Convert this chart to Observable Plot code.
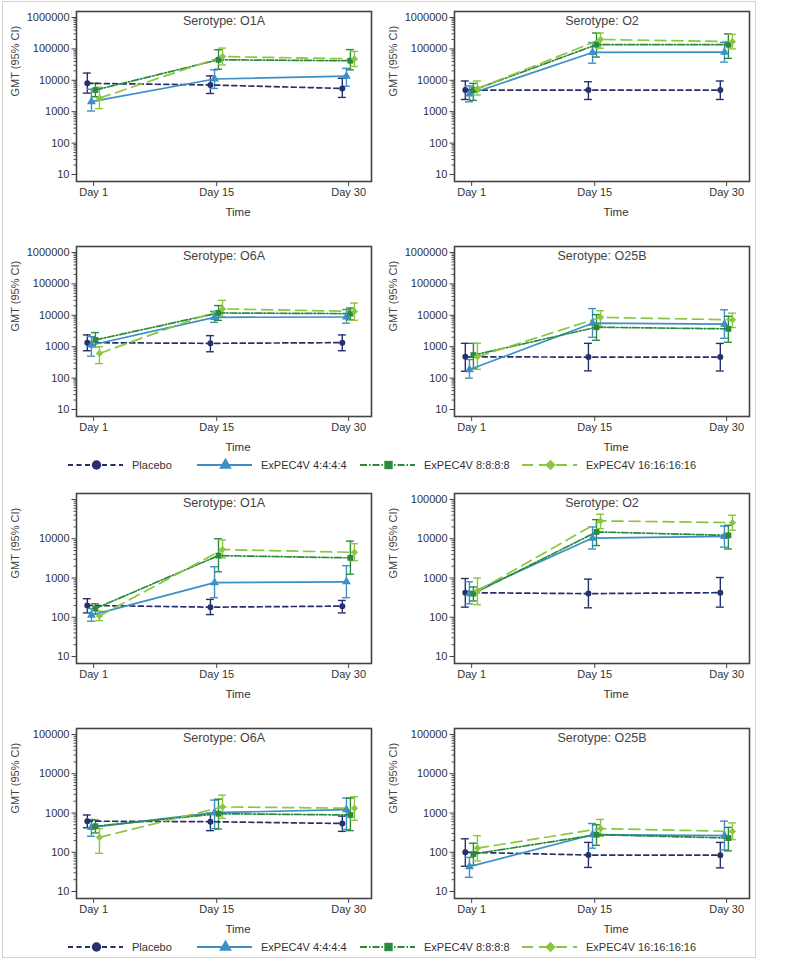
<!DOCTYPE html>
<html>
<head>
<meta charset="utf-8">
<script src="https://cdn.jsdelivr.net/npm/d3@7"></script>
<script src="https://cdn.jsdelivr.net/npm/@observablehq/plot@0.6"></script>
<style>
  body { margin: 0; background: #fff; font-family: "Liberation Sans", Arial, sans-serif; }
  #page { position: relative; width: 800px; height: 961px; }
  #border { position: absolute; left: 2px; top: 1px; width: 754px; height: 957px; border: 1px solid #d2d2d2; box-sizing: border-box; }
  .panel { position: absolute; }
  .legend { position: absolute; left: 0; }
</style>
</head>
<body>
<div id="page"><div id="border"></div></div>
<script>
// ---------- data ----------
const days = [1, 15, 30];
const dayLabels = ["Day 1", "Day 15", "Day 30"];
const groups = ["Placebo", "ExPEC4V 4:4:4:4", "ExPEC4V 8:8:8:8", "ExPEC4V 16:16:16:16"];
const colors = ["#27306c", "#3d8fc6", "#2b8a3e", "#8cc63f"];
const dashes = ["5,3.5", null, "7,2,1.5,2", "11,6"];
const symbols = ["circle", "triangle", "square", "diamond2"];
const xOffsets = [-0.72, -0.25, 0.2, 0.66];   // small dodge of groups around each day

// rows: groups (Placebo, 4:4:4:4, 8:8:8:8, 16:16:16:16); columns: Day 1, Day 15, Day 30
// Upper block
const gmt1_O1A = [[8000, 7100, 5500], [2100, 11000, 13500], [4900, 45000, 42000], [2700, 57000, 48000]];
const lo1_O1A  = [[3900, 3800, 2850], [1050, 5500, 6500], [3000, 22500, 21500], [1250, 31000, 27500]];
const hi1_O1A  = [[17000, 13800, 11600], [5200, 21500, 24000], [8000, 94000, 95000], [6000, 106000, 83000]];

const gmt1_O2 = [[4900, 4900, 4900], [3650, 77000, 79000], [4900, 136000, 136000], [5400, 200000, 170000]];
const lo1_O2  = [[2450, 2450, 2450], [2070, 35000, 38000], [2300, 55000, 50000], [3400, 105000, 100000]];
const hi1_O2  = [[9500, 9000, 9500], [6600, 160000, 160000], [8000, 320000, 300000], [9500, 320000, 290000]];

const gmt1_O6A = [[1345, 1280, 1345], [1130, 8620, 8830], [1640, 11900, 11300], [610, 16000, 13300]];
const lo1_O6A  = [[745, 690, 745], [500, 5950, 5600], [1000, 6900, 7200], [290, 8800, 6900]];
const hi1_O6A  = [[2370, 2250, 2370], [2090, 13400, 15200], [2820, 20400, 17000], [1000, 30000, 24500]];

const gmt1_O25B = [[477, 466, 466], [187, 5600, 5200], [540, 4170, 3700], [480, 8600, 7200]];
const lo1_O25B  = [[165, 170, 168], [100, 1990, 1850], [200, 1600, 1380], [190, 4400, 4100]];
const hi1_O25B  = [[1280, 1280, 1270], [390, 16400, 15000], [1280, 10500, 9300], [1280, 14000, 11700]];

// Lower block
const gmt2_O1A = [[200, 181, 192], [113, 765, 800], [167, 3720, 3260], [108, 5300, 4500]];
const lo2_O1A  = [[129, 117, 129], [79, 315, 315], [122, 1440, 1250], [82, 3260, 2770]];
const hi2_O1A  = [[297, 285, 268], [167, 1940, 2060], [220, 10000, 8700], [143, 9400, 7500]];

const gmt2_O2 = [[423, 400, 423], [400, 10400, 11500], [400, 14900, 12200], [467, 28500, 25800]];
const lo2_O2  = [[181, 174, 181], [220, 5500, 6100], [260, 6700, 5500], [210, 18000, 16500]];
const hi2_O2  = [[970, 935, 1030], [800, 20000, 21000], [590, 30700, 22000], [1000, 42000, 39700]];

const gmt2_O6A = [[620, 600, 540], [430, 1020, 1220], [460, 960, 890], [240, 1430, 1320]];
const lo2_O6A  = [[420, 355, 340], [255, 400, 380], [310, 390, 355], [94, 730, 650]];
const hi2_O6A  = [[890, 980, 835], [685, 2130, 2400], [660, 2250, 2400], [400, 2850, 2600]];

const gmt2_O25B = [[100, 85, 84], [43, 280, 265], [90, 280, 230], [127, 400, 340]];
const lo2_O25B  = [[44, 41, 40], [23, 127, 115], [47, 150, 108], [60, 255, 210]];
const hi2_O25B  = [[220, 178, 178], [74, 540, 620], [170, 500, 430], [265, 685, 560]];

// y tick labels per panel
const yTicksUpper = [10, 100, 1000, 10000, 100000, 1000000];
const yTicksLower = [10, 100, 1000, 10000, 100000];
const yLabelsLowerO1A = [10, 100, 1000, 10000];

// ---------- drawing ----------
const FONT = '"Liberation Sans", Arial, sans-serif';
const capHalf = 0.45;

function makePanel(title, gmt, lo, hi, majors, labeled) {
  const rows = groups.flatMap((g, i) => days.map((d, j) => ({
    group: g, gi: i, x: d + xOffsets[i], gmt: gmt[i][j], lo: lo[i][j], hi: hi[i][j]
  })));
  const yMax = majors[majors.length - 1];
  const minors = majors.slice(0, -1).flatMap(m => d3.range(2, 10).map(k => m * k));
  const marks = [
    Plot.axisY(minors, {tickSize: 2.5, tickFormat: () => "", label: null, stroke: "#555"}),
    Plot.axisY(majors, {tickSize: 4.5, tickPadding: 2.5, tickFormat: d => labeled.includes(d) ? String(d) : "", label: null, stroke: "#444", fill: "#333"}),
    Plot.axisX(days, {tickSize: 5, tickPadding: 2, tickFormat: d => dayLabels[days.indexOf(d)], label: null, stroke: "#444", fill: "#333"}),
    Plot.text(["GMT (95% CI)"], {frameAnchor: "left", dx: -61, rotate: -90, lineAnchor: "middle", fill: "#444", fontSize: 11}),
    Plot.text(["Time"], {frameAnchor: "bottom", dy: 31, dx: 14, lineAnchor: "middle", fill: "#333", fontSize: 11.5}),
    Plot.text([title], {frameAnchor: "top", dy: 9, lineAnchor: "middle", fill: "#444", fontSize: 12.5})
  ];
  groups.forEach((g, i) => {
    const sub = rows.filter(r => r.gi === i);
    marks.push(Plot.ruleX(sub, {x: "x", y1: "lo", y2: "hi", stroke: colors[i], strokeWidth: 1.4}));
    marks.push(Plot.ruleY(sub, {y: "lo", x1: r => r.x - capHalf, x2: r => r.x + capHalf, stroke: colors[i], strokeWidth: 1.4}));
    marks.push(Plot.ruleY(sub, {y: "hi", x1: r => r.x - capHalf, x2: r => r.x + capHalf, stroke: colors[i], strokeWidth: 1.4}));
  });
  groups.forEach((g, i) => {
    const sub = rows.filter(r => r.gi === i);
    marks.push(Plot.line(sub, {x: "x", y: "gmt", stroke: colors[i], strokeWidth: 1.7, strokeDasharray: dashes[i] || undefined}));
  });
  groups.forEach((g, i) => {
    const sub = rows.filter(r => r.gi === i);
    marks.push(Plot.dot(sub, {x: "x", y: "gmt", symbol: () => symbols[i], fill: colors[i], stroke: "none", r: i === 0 ? 3 : 3.3}));
  });
  marks.push(Plot.frame({stroke: "#444", strokeWidth: 1.6}));
  return Plot.plot({
    width: 378, height: 222,
    marginLeft: 76, marginRight: 7, marginTop: 11, marginBottom: 41,
    x: {domain: [-0.95, 32.6]},
    y: {type: "log", domain: [10, yMax], insetTop: 6, insetBottom: 7},
    symbol: {type: "identity"},
    style: {fontFamily: FONT, fontSize: "11px", color: "#333", background: "transparent", overflow: "visible"},
    marks
  });
}

const page = document.getElementById("page");
function place(node, left, top) {
  const wrap = document.createElement("div");
  wrap.className = "panel";
  wrap.style.left = left + "px";
  wrap.style.top = top + "px";
  wrap.appendChild(node);
  page.appendChild(wrap);
}

place(makePanel("Serotype: O1A", gmt1_O1A, lo1_O1A, hi1_O1A, yTicksUpper, yTicksUpper), 0, 0);
place(makePanel("Serotype: O2", gmt1_O2, lo1_O2, hi1_O2, yTicksUpper, yTicksUpper), 378, 0);
place(makePanel("Serotype: O6A", gmt1_O6A, lo1_O6A, hi1_O6A, yTicksUpper, yTicksUpper), 0, 235);
place(makePanel("Serotype: O25B", gmt1_O25B, lo1_O25B, hi1_O25B, yTicksUpper, yTicksUpper), 378, 235);

place(makePanel("Serotype: O1A", gmt2_O1A, lo2_O1A, hi2_O1A, yTicksLower, yLabelsLowerO1A), 0, 482);
place(makePanel("Serotype: O2", gmt2_O2, lo2_O2, hi2_O2, yTicksLower, yTicksLower), 378, 482);
place(makePanel("Serotype: O6A", gmt2_O6A, lo2_O6A, hi2_O6A, yTicksLower, yTicksLower), 0, 717);
place(makePanel("Serotype: O25B", gmt2_O25B, lo2_O25B, hi2_O25B, yTicksLower, yTicksLower), 378, 717);

// ---------- legends ----------
const legendStarts = [68, 197, 360, 522];
const legendLineLen = 55;
function makeLegend(top) {
  const svg = d3.create("svg").attr("width", 757).attr("height", 20)
    .style("font-family", FONT).style("font-size", "11px");
  groups.forEach((g, i) => {
    const x0 = legendStarts[i], cy = 10;
    const line = svg.append("line").attr("x1", x0).attr("x2", x0 + legendLineLen)
      .attr("y1", cy).attr("y2", cy).attr("stroke", colors[i]).attr("stroke-width", 1.8);
    if (dashes[i]) line.attr("stroke-dasharray", dashes[i]);
    const symMap = {circle: d3.symbolCircle, triangle: d3.symbolTriangle, square: d3.symbolSquare, diamond2: d3.symbolDiamond2};
    svg.append("path").attr("d", d3.symbol(symMap[symbols[i]], 70)())
      .attr("transform", `translate(${x0 + legendLineLen / 2 + 1},${cy})`).attr("fill", colors[i]);
    svg.append("text").attr("x", x0 + legendLineLen + 9).attr("y", cy).attr("dy", "0.36em")
      .attr("fill", "#333").text(g);
  });
  const wrap = document.createElement("div");
  wrap.className = "legend";
  wrap.style.top = top + "px";
  wrap.appendChild(svg.node());
  page.appendChild(wrap);
}
makeLegend(455);
makeLegend(937);
</script>
</body>
</html>
